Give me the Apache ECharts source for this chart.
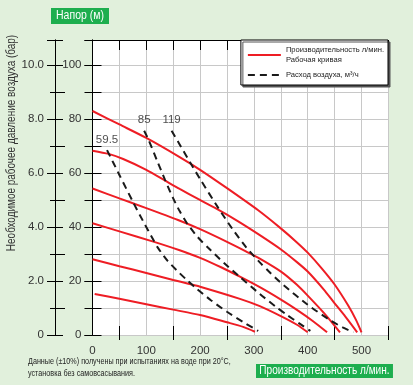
<!DOCTYPE html>
<html>
<head>
<meta charset="utf-8">
<script src="https://cdn.jsdelivr.net/npm/echarts@6/dist/echarts.min.js"></script>
<style>
html,body{margin:0;padding:0;background:#e1f0dc;}
#c{width:413px;height:385px;}
</style>
</head>
<body>
<div id="c"></div>
<script>
// ---- data (flow л/мин, head м) ----
const flowR1 = [0, 50, 100, 162, 200, 250, 308, 350, 380, 400, 426, 450, 475, 490, 500];
const headR1 = [83, 78, 73, 65.9, 61.2, 54.4, 46.2, 39.5, 34.3, 30.5, 24.7, 18.7, 11, 5.5, 1];
const flowR2 = [0, 30, 57, 100, 135, 162, 197, 231, 270, 311, 351, 380, 400, 430, 449, 470, 492];
const headR2 = [68.3, 67.1, 65.2, 61.2, 57.2, 54.1, 50.3, 46.7, 42.2, 37, 31.6, 27, 23.5, 16.8, 12, 6.8, 1];
const flowR3 = [0, 50, 100, 159, 200, 250, 286, 311, 351, 380, 400, 430, 460];
const headR3 = [54.3, 50.6, 47, 42.6, 39.2, 34.5, 30.9, 28.3, 23.4, 18.6, 14.6, 8.2, 1];
const flowR4 = [0, 50, 113, 162, 200, 240, 274, 311, 351, 380, 410, 436];
const headR4 = [41.4, 38.4, 34.6, 31.4, 28.6, 25, 21.6, 17.7, 13, 9.3, 5.1, 1];
const flowR5 = [0, 50, 100, 150, 178, 200, 274, 311, 350, 380, 400];
const headR5 = [28.1, 25.5, 23, 20.4, 19, 17.9, 13.4, 10.7, 7, 3.8, 1];
const flowR6 = [4, 50, 100, 150, 200, 250, 280, 302];
const headR6 = [15.2, 13.4, 11.4, 9.4, 7.4, 4.7, 3, 1.2];

const flowD1 = [27, 50, 76, 94, 113, 122, 140, 162, 178, 194, 220, 250, 280, 308];
const headD1 = [68.5, 59.3, 49, 42.2, 35.3, 32.2, 27.4, 22.9, 19.9, 17.1, 12.9, 8.6, 4.8, 1.5];
const flowD2 = [96, 104, 120, 135, 150, 162, 175, 195, 215, 245, 274, 311, 340, 361, 385, 405];
const headD2 = [75.7, 72.4, 64.6, 57.4, 50.6, 45.9, 41.6, 36.4, 32.3, 26.6, 21.5, 15.2, 10.6, 7.5, 4.2, 1.5];
const flowD3 = [147, 162, 181, 200, 234, 260, 286, 311, 327, 355, 400, 440, 465, 485];
const headD3 = [75.7, 70.6, 64.1, 57.8, 47, 39.3, 32.4, 26.9, 23.7, 18.5, 11.2, 5.7, 2.8, 1];
const airLabels = ['59.5', '85', '119'];

const xTickLabels = [0, 100, 200, 300, 400, 500];
const headTickLabels = [0, 20, 40, 60, 80, 100];
const barTickLabels = ['0', '2.0', '4.0', '6.0', '8.0', '10.0'];

const redName = 'Производительность л/мин.\nРабочая кривая';
const airName = 'Расход воздуха, м³/ч';

// ---- build ----
const FONT = "'Liberation Sans',Arial,sans-serif";
const RED = '#ee1d24';
const BLK = '#1a1a1a';
const GRID = '#c8c8c8';
const GREEN = '#1dae4e';
const HMAX = 109.3;

function pairs(xs, ys){ return xs.map((x,i)=>[x, ys[i]]); }
const reds = [[flowR1,headR1],[flowR2,headR2],[flowR3,headR3],[flowR4,headR4],[flowR5,headR5],[flowR6,headR6]];
const dashes = [[flowD1,headD1],[flowD2,headD2],[flowD3,headD3]];

const series = [];
reds.forEach(([x,y])=>series.push({
  name: redName, type:'line', data: pairs(x,y), symbol:'none', smooth:0.25,
  lineStyle:{color:RED, width:2}, itemStyle:{color:RED}, z:3
}));
dashes.forEach(([x,y])=>series.push({
  name: airName, type:'line', data: pairs(x,y), symbol:'none', smooth:0.25,
  lineStyle:{color:BLK, width:2, type:[7,5]}, itemStyle:{color:BLK}, z:4
}));
series.push({
  type:'scatter', symbolSize:1, itemStyle:{color:'rgba(0,0,0,0)'}, silent:true, z:5,
  data: dashes.map(([x,y],i)=>[x[0], y[0], airLabels[i]]),
  label:{show:true, position:'top', distance:4, formatter:p=>p.value[2], color:'#222', fontSize:11.5, fontFamily:FONT}
});

const tickBlack = {lineStyle:{color:'#000', width:1}};
const option = {
  animation:false,
  backgroundColor:'#e1f0dc',
  textStyle:{fontFamily:FONT},
  legend:{
    orient:'vertical', right:25, top:40, data:[redName, airName],
    backgroundColor:'#fff', borderColor:'#000', borderWidth:1,
    shadowColor:'#555', shadowOffsetX:2, shadowOffsetY:2, shadowBlur:0,
    padding:[5,4,5,6], itemWidth:33, itemHeight:8, itemGap:5,
    itemStyle:{opacity:0},
    textStyle:{fontSize:7.6, color:'#222', fontFamily:FONT, lineHeight:10}
  },
  graphic:[
    {type:'text', x:12, y:143, rotation:Math.PI/2, scaleX:0.83,
     style:{text:'Необходимое рабочее давление воздуха (бар)', fontSize:12, fontFamily:FONT, fill:'#333', align:'center', verticalAlign:'middle'}},
    {type:'text', x:51, y:8, scaleX:0.84,
     style:{text:'Напор (м)', fontSize:12.5, lineHeight:14, fontFamily:FONT, fill:'#fff', backgroundColor:GREEN, padding:[1,6,1,6], align:'left', verticalAlign:'top'}},
    {type:'text', x:256, y:364, scaleX:0.84,
     style:{text:'Производительность л/мин.', fontSize:12, lineHeight:12, fontFamily:FONT, fill:'#fff', backgroundColor:GREEN, padding:[1,4,1,4], align:'left', verticalAlign:'top'}},
    {type:'text', x:28, y:356, scaleX:0.8,
     style:{text:'Данные (±10%) получены при испытаниях на воде при 20°С,\nустановка без самовсасывания.', fontSize:9, lineHeight:11.5, fontFamily:FONT, fill:'#222', align:'left', verticalAlign:'top'}}
  ],
  grid:[
    {left:92.5, right:24.6, top:40, bottom:50, show:true, backgroundColor:'#fff', borderWidth:0},
    {left:119.4, right:24.6, top:40, bottom:50}
  ],
  xAxis:[
    {gridIndex:0, type:'value', min:0, max:550, interval:50, position:'bottom',
     axisLine:{show:false}, axisTick:{show:false},
     splitLine:{show:true, lineStyle:{color:GRID, width:1}},
     axisLabel:{margin:10, fontSize:11.5, color:'#333', fontFamily:FONT,
       formatter:v=> xTickLabels.indexOf(v)>=0 ? String(v) : ''}},
    {gridIndex:0, type:'value', min:0, max:550, interval:50, position:'top',
     axisLine:{show:true, onZero:false, lineStyle:{color:'#000', width:1}},
     axisTick:{show:true, inside:true, length:10, ...tickBlack},
     axisLabel:{show:false}, splitLine:{show:false}},
    {gridIndex:1, type:'value', min:50, max:550, interval:100, position:'bottom',
     axisLine:{show:false}, axisTick:{show:true, inside:true, length:9, ...tickBlack},
     axisLabel:{show:false}, splitLine:{show:false}},
    {gridIndex:1, type:'value', min:50, max:550, interval:100, position:'bottom',
     axisLine:{show:false}, axisTick:{show:true, inside:false, length:5, ...tickBlack},
     axisLabel:{show:false}, splitLine:{show:false}}
  ],
  yAxis:[
    {gridIndex:0, type:'value', min:0, max:HMAX, interval:10, position:'left',
     axisLine:{show:true, onZero:false, lineStyle:{color:'#000', width:1}},
     axisTick:{show:true, inside:true, length:9, ...tickBlack},
     splitLine:{show:true, lineStyle:{color:GRID, width:1}}, axisLabel:{show:false}},
    {gridIndex:0, type:'value', min:0, max:HMAX, interval:20, position:'left',
     axisLine:{show:true, onZero:false, lineStyle:{color:'#000', width:1}},
     axisTick:{show:true, inside:false, length:8, ...tickBlack},
     minorTick:{show:true, splitNumber:2, length:4.5, lineStyle:{color:'#000', width:1}},
     splitLine:{show:false},
     axisLabel:{margin:11, fontSize:11.5, color:'#333', fontFamily:FONT,
       formatter:v=> headTickLabels.indexOf(v)>=0 ? String(v) : ''}},
    {gridIndex:0, type:'value', min:0, max:HMAX, interval:10, position:'right',
     axisLine:{show:false}, axisTick:{show:true, inside:true, length:8, ...tickBlack},
     axisLabel:{show:false}, splitLine:{show:false}},
    {gridIndex:0, type:'value', min:0, max:HMAX/10, interval:2, position:'left', offset:37.5,
     axisLine:{show:true, onZero:false, lineStyle:{color:'#000', width:1}},
     axisTick:{show:true, inside:true, length:8, ...tickBlack},
     minorTick:{show:true, splitNumber:2, length:10, lineStyle:{color:'#000', width:1}},
     axisLabel:{show:false}, splitLine:{show:false}},
    {gridIndex:0, type:'value', min:0, max:HMAX/10, interval:2, position:'left', offset:37.5,
     axisLine:{show:true, onZero:false, lineStyle:{color:'#000', width:1}},
     axisTick:{show:true, inside:false, length:8, ...tickBlack},
     minorTick:{show:true, splitNumber:2, length:5, lineStyle:{color:'#000', width:1}},
     splitLine:{show:false},
     axisLabel:{margin:11, fontSize:11.5, color:'#333', fontFamily:FONT,
       formatter:v=>{ const i=[0,2,4,6,8,10].indexOf(Math.round(v*1000)/1000); return i>=0 ? barTickLabels[i] : ''; }}},
    {gridIndex:1, type:'value', min:0, max:1, show:false}
  ],
  series: series
};
const chart = echarts.init(document.getElementById('c'), null, {renderer:'canvas'});
chart.setOption(option);
</script>
</body>
</html>
